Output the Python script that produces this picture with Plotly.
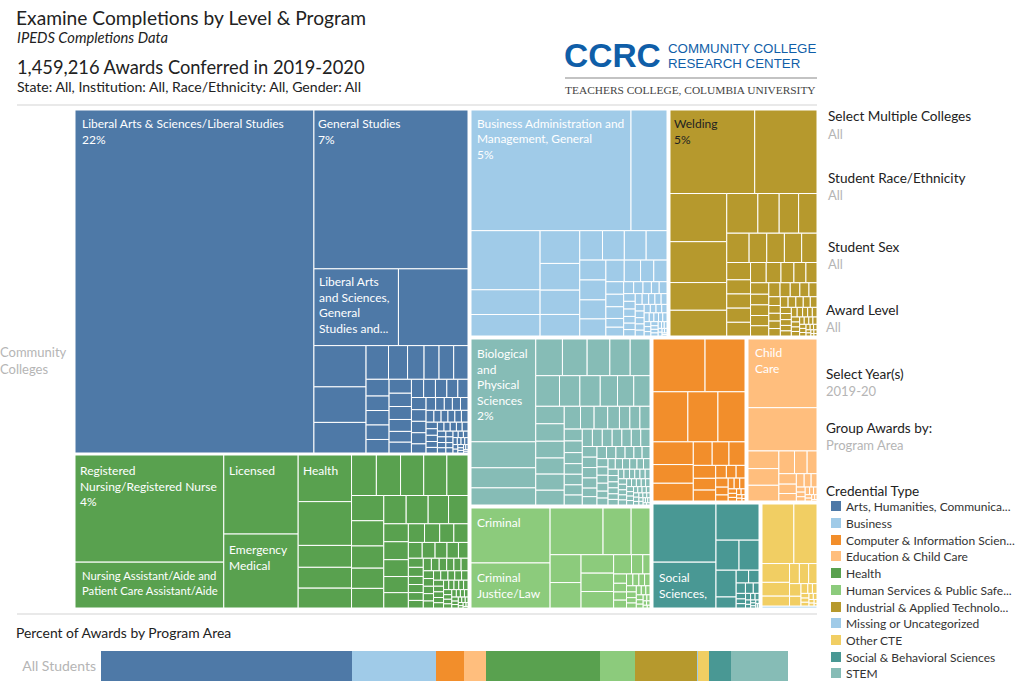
import plotly.graph_objects as go

W, H = 1024, 685
FONT = "Lato"

# ---------- data: share of all awards (%) ----------
programs = ["Arts, Humanities, Communica...", "Business", "Computer & Information Scien...",
            "Education & Child Care", "Health", "Human Services & Public Safe...",
            "Industrial & Applied Technolo...", "Missing or Uncategorized", "Other CTE",
            "Social & Behavioral Sciences", "STEM"]
colors = ["#4E79A7", "#A0CBE8", "#F28E2B", "#FFBE7D", "#59A14F", "#8CCB7C",
          "#B6992D", "#A0CBE8", "#F1CE63", "#499894", "#86BCB6"]
bar_share = [36.5, 12.2, 4.2, 3.2, 16.6, 5.1, 9.0, 0.1, 1.6, 3.2, 8.3]

arts = [22.1, 6.6, 1.75, 1.44, .58, .50, .43, .204, .173, .15, .133, .13,
        .136, .104, .09, .09, .09, .084, .084, .08, .078, .072, .065,
        .065, .06, .058, .056, .054, .05, .048, .046, .045, .044,
        .036, .033, .03, .028, .028, .026, .025, .023, .022, .021, .02,
        .022, .021, .02, .019, .018, .017, .016, .015, .015, .014, .014, .013, .013, .012, .012,
        .011, .011, .01, .01, .009, .009, .008, .008, .007, .007, .006, .006, .005, .005,
        .004, .004, .003, .003, .002, .002]
business = [5.2, 1.17, 1.10, .46, .40, .35, .285, .26, .23, .18, .173, .173, .165,
            .14, .14, .134, .12, .107, .095, .077, .077, .06, .06, .056, .042, .042,
            .032, .03, .027, .024, .023, .025, .025, .024, .021, .02, .02,
            .018, .016, .015, .014, .013,
            .02, .019, .018, .017, .016, .015, .014, .013, .012, .012, .011, .011, .01, .01,
            .009, .009, .008, .008, .007, .007, .006, .006, .005, .005, .004, .004, .003, .003, .002, .002]
computer = [.73, .56, .464, .40, .36, .243, .2, .19, .118, .105, .1, .077, .07, .065,
            .036, .033, .03, .03, .026, .02, .017, .016, .015, .01, .009, .008, .007, .006, .005, .004, .003, .002]
education = [1.27, .80, .146, .138, .13, .095, .077, .06, .049, .044, .035,
             .028, .025, .021, .012, .011, .01, .009, .008, .007, .006, .005, .004, .003, .002]
health = [4.23, 1.81, 1.56, 1.46, .66, .62, .31, .295, .267, .281, .26, .249, .249, .227,
          .216, .216, .19, .173, .165, .168, .168, .153, .146, .117, .117, .11, .105, .1,
          .08, .075, .07, .07, .058, .054, .05, .048, .04, .036, .036, .032, .032, .031, .03,
          .027, .026, .025, .024, .024, .023, .021, .021, .02, .02, .019,
          .018, .018, .017, .017, .016, .016, .015, .015, .014, .014, .013, .013, .012, .012, .011, .011,
          .01, .01, .009, .009, .008, .008, .007, .007, .006, .006, .005, .005, .004, .004, .003, .003, .002, .002]
human = [1.16, .95, .66, .35, .23, .235, .21, .16, .16, .143, .092, .058, .037,
         .032, .03, .028, .027, .02, .019, .018, .017, .016, .015, .014, .013, .012, .011, .01,
         .009, .008, .007, .006, .005, .004, .004, .003, .002]
industrial = [1.89, 1.39, .73, .62, .42, .39, .33, .226, .206, .175, .195, .138, .138, .135, .12,
              .11, .09, .09, .09, .085, .087, .08, .07, .065, .06, .056, .052, .052, .05, .05,
              .042, .038, .036, .034, .03, .027, .024, .024, .023, .023, .022, .022, .021, .02, .019,
              .018, .018, .017, .016, .015, .015, .014, .013, .012, .012, .011, .011, .01, .01,
              .009, .009, .008, .008, .007, .007, .006, .006, .005, .005, .004, .004, .003, .003, .002, .002]
missing = [.03]
other_cte = [.51, .37, .139, .102, .073, .053, .05, .045, .039, .03, .018, .012,
             .012, .01, .009, .008, .007, .006, .005, .004, .003, .002]
social = [.99, .78, .42, .187, .162, .146, .06, .043, .036, .026, .022, .016, .014, .012, .011,
          .009, .008, .007, .006, .005, .004, .004, .003, .003, .002, .002]
stem = [1.74, .44, .34, .29, .256, .237, .218, .19, .19, .195, .163, .163, .138, .13, .125,
        .13, .13, .13, .12, .12, .11, .097, .081, .081, .07, .06, .06,
        .062, .056, .055, .052, .05, .05, .045, .048, .047, .046, .045, .044, .043,
        .043, .042, .041, .04, .04, .039, .033, .032, .03, .03, .029, .028,
        .026, .025, .024, .024, .023, .023, .02, .02, .02, .02, .02, .02,
        .018, .018, .017, .017, .016, .016, .015, .015, .014, .014, .013, .013, .013, .012, .012, .012,
        .011, .011, .011, .01, .01, .01, .009, .009, .009, .008, .008, .008, .007, .007, .007,
        .006, .006, .006, .005, .005, .005, .004, .004, .004, .003, .003, .003, .002, .002]

group_values = [arts, business, computer, education, health, human, industrial, missing, other_cte, social, stem]
# treemap block of each program, in page pixels: left, top, right, bottom
group_boxes = [(75, 110, 468, 453), (471, 110, 667, 336), (653, 339, 745, 501), (748, 339, 817, 501),
               (75, 455, 468, 608), (471, 508, 650, 608), (670, 110, 817, 336), (762, 606, 817, 608),
               (762, 504, 817, 606), (653, 504, 759, 608), (471, 339, 650, 505)]

cell_labels = [
    (82, 116, "Liberal Arts & Sciences/Liberal Studies<br>22%", "white", 12),
    (318, 116, "General Studies<br>7%", "white", 12),
    (319, 274, "Liberal Arts<br>and Sciences,<br>General<br>Studies and...", "white", 12),
    (477, 116, "Business Administration and<br>Management, General<br>5%", "white", 11.9),
    (674, 116, "Welding<br>5%", "#222222", 12),
    (477, 346, "Biological<br>and<br>Physical<br>Sciences<br>2%", "white", 12),
    (755, 345, "Child<br>Care", "white", 12),
    (80, 463, "Registered<br>Nursing/Registered Nurse<br>4%", "white", 12),
    (82, 569, "Nursing Assistant/Aide and<br>Patient Care Assistant/Aide", "white", 11.3),
    (229, 463, "Licensed", "white", 12),
    (229, 542, "Emergency<br>Medical", "white", 12),
    (303, 463, "Health", "white", 12),
    (477, 515, "Criminal", "white", 12),
    (477, 570, "Criminal<br>Justice/Law", "white", 12),
    (659, 570, "Social<br>Sciences,", "white", 12),
]
filters = [(828, 116, 134, "Select Multiple Colleges", "All"),
           (828, 178, 195, "Student Race/Ethnicity", "All"),
           (828, 247, 264, "Student Sex", "All"),
           (826, 310, 327, "Award Level", "All"),
           (826, 374, 391, "Select Year(s)", "2019-20"),
           (826, 428, 445, "Group Awards by:", "Program Area")]
legend_rows = [506, 523, 540, 556, 573, 590, 607, 623, 640, 657, 673]

# ---------- figure ----------
fig = go.Figure()

def px(x):
    return x / W

def py(y):
    return 1 - y / H

for name, vals, col, box in zip(programs, group_values, colors, group_boxes):
    ids = [f"{name} {i + 1}" for i in range(len(vals))]
    fig.add_trace(go.Treemap(
        ids=ids, labels=ids, parents=[""] * len(vals), values=vals,
        domain=dict(x=[px(box[0]), px(box[2])], y=[py(box[3]), py(box[1])]),
        marker=dict(colors=[col] * len(vals), line=dict(color="white", width=1), pad=dict(t=0, l=0, r=0, b=0)),
        tiling=dict(packing="squarify", squarifyratio=1.618, pad=0),
        pathbar=dict(visible=False), textinfo="none", hoverinfo="label+value", sort=True,
    ))

for name, share, col in zip(programs, bar_share, colors):
    fig.add_trace(go.Bar(y=["All Students"], x=[share], orientation="h", width=1,
                         marker=dict(color=col, line=dict(width=0)), name=name, showlegend=False))

annotations = []

def txt(x, y, s, size=12, color="#222222", anchor="left", vanchor="middle", family=FONT):
    annotations.append(dict(xref="paper", yref="paper", x=px(x), y=py(y), text=s, showarrow=False,
                            xanchor=anchor, yanchor=vanchor, align=anchor, borderpad=0, borderwidth=0,
                            font=dict(size=size, color=color, family=family)))

txt(16, 18, "Examine Completions by Level & Program", 19.2)
txt(17, 37, "<i>IPEDS Completions Data</i>", 14.7)
txt(17, 67, "1,459,216 Awards Conferred in 2019-2020", 18.3)
txt(17, 86, "State: All, Institution: All, Race/Ethnicity: All, Gender: All", 14.1)
txt(564, 55, "<b>CCRC</b>", 33.5, "#0F5EA8", family="Liberation Sans")
txt(668, 49, "COMMUNITY COLLEGE", 13.3, "#0F5EA8", family="Liberation Sans")
txt(668, 63, "RESEARCH CENTER", 13.3, "#0F5EA8", family="Liberation Sans")
txt(565, 90, "TEACHERS COLLEGE, COLUMBIA UNIVERSITY", 11.4, "#444444", family="Liberation Serif")
txt(0, 360, "Community<br>Colleges", 13, "#B5B5B5", vanchor="middle")
txt(16, 632, "Percent of Awards by Program Area", 13.9)

for x, y, s, col, size in cell_labels:
    txt(x, y, s, size, col, vanchor="top")
for x, y1, y2, head, val in filters:
    txt(x, y1, head, 13.6)
    txt(x, y2, val, 13, "#B5B5B5")
txt(826, 491, "Credential Type", 13.6)

shapes = []
for name, col, y in zip(programs, colors, legend_rows):
    txt(846, y, name, 12, "#333333")
    shapes.append(dict(type="rect", xref="paper", yref="paper", x0=px(831), x1=px(841), y0=py(y + 5), y1=py(y - 5),
                       fillcolor=col, line=dict(width=0)))
for x0, x1, y, c, w in [(17, 817, 105, "#E2E2E2", 1.5), (17, 817, 614, "#E2E2E2", 1.5), (565, 817, 78, "#AFAFAF", 1.5)]:
    shapes.append(dict(type="line", xref="paper", yref="paper", x0=px(x0), x1=px(x1), y0=py(y), y1=py(y),
                       line=dict(color=c, width=w)))

fig.update_layout(
    width=W, height=H, margin=dict(l=0, r=0, t=0, b=0), paper_bgcolor="white", plot_bgcolor="white",
    barmode="stack", bargap=0, showlegend=False, annotations=annotations, shapes=shapes,
    font=dict(family=FONT),
    xaxis=dict(domain=[px(101), px(788)], range=[0, 100], visible=False),
    yaxis=dict(domain=[py(681), py(651)], range=[-0.5, 0.5], type="category", showgrid=False, zeroline=False,
               showline=False, ticks="", ticklabelstandoff=4, tickfont=dict(size=14, color="#B5B5B5", family=FONT)),
)
fig.write_html("out.html", post_script="document.body.style.margin='0';", config={"displayModeBar": False})
